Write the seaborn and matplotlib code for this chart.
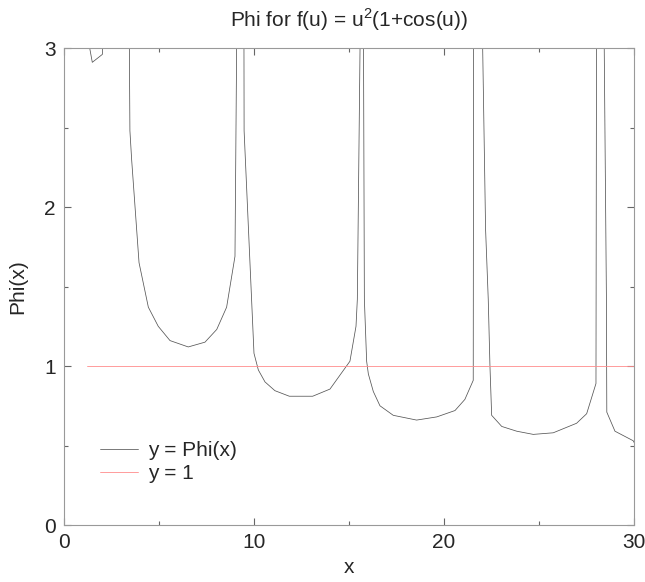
import pandas as pd
import seaborn as sns
import matplotlib.pyplot as plt
from matplotlib.ticker import MultipleLocator

# Phi(x) (values above 3 are off-chart, estimated)
phi_x = [1.2, 1.49, 2.02, 2.05, 3.14, 3.43, 3.47, 3.56, 3.95, 4.44, 4.96, 5.58,
         6.54, 7.42, 8.04, 8.56, 9.0, 9.1, 9.42, 9.47, 9.48, 10.0, 10.23, 10.58,
         11.1, 11.86, 13.09, 14.0, 15.05, 15.37, 15.44, 15.6, 15.71, 15.76, 15.81,
         15.93, 16.02, 16.28, 16.63, 17.33, 18.56, 19.62, 20.58, 21.1, 21.54,
         21.56, 21.99, 22.01, 22.19, 22.33, 22.42, 22.51, 23.04, 23.83, 24.7,
         25.75, 26.98, 27.51, 28.0, 28.03, 28.27, 28.42, 28.55, 28.57, 29.0,
         29.96, 30.0]
phi_y = [3.1, 2.91, 2.96, 3.2, 12.0, 3.2, 2.48, 2.30, 1.65, 1.37, 1.25, 1.16,
         1.12, 1.15, 1.23, 1.37, 1.69, 3.2, 12.0, 3.2, 2.48, 1.08, 0.975, 0.90,
         0.845, 0.81, 0.81, 0.855, 1.03, 1.25, 1.42, 3.2, 12.0, 3.2, 1.42,
         1.03, 0.95, 0.84, 0.75, 0.69, 0.66, 0.68, 0.72, 0.79, 0.91,
         3.2, 12.0, 3.2, 1.86, 1.42, 1.0, 0.69, 0.62, 0.59, 0.57,
         0.58, 0.64, 0.70, 0.89, 3.2, 12.0, 3.2, 1.42, 0.71, 0.59,
         0.53, 0.52]

one_x = [1.2, 30.0]
one_y = [1.0, 1.0]

title = 'Phi for f(u) = u$^2$(1+cos(u))'

sns.set_style('ticks')
plt.rcParams['font.family'] = ['Liberation Sans', 'DejaVu Sans']
plt.rcParams['mathtext.fontset'] = 'custom'
plt.rcParams['mathtext.rm'] = 'Liberation Sans'

fig = plt.figure(figsize=(6.45, 5.82), dpi=100)
ax = fig.add_axes([0.0992, 0.0979, 0.8837, 0.8196])

phi = pd.DataFrame({'x': phi_x, 'y': phi_y})
one = pd.DataFrame({'x': one_x, 'y': one_y})

sns.lineplot(data=phi, x='x', y='y', ax=ax, color='#555555', linewidth=0.55,
             estimator=None, label='y = Phi(x)')
sns.lineplot(data=one, x='x', y='y', ax=ax, color='#ff8c8c', linewidth=0.6,
             estimator=None, label='y = 1')

ax.set_xlim(0, 30)
ax.set_ylim(0, 3)
ax.xaxis.set_major_locator(MultipleLocator(10))
ax.xaxis.set_minor_locator(MultipleLocator(5))
ax.yaxis.set_major_locator(MultipleLocator(1))
ax.yaxis.set_minor_locator(MultipleLocator(0.5))
ax.tick_params(which='both', direction='in', top=True, right=True,
               color='#666666', width=0.8, labelsize=15, pad=6)
ax.tick_params(which='major', length=5)
ax.tick_params(which='minor', length=3)
for sp in ax.spines.values():
    sp.set_color('#999999')
    sp.set_linewidth(0.8)

ax.set_title(title, fontsize=15, pad=15)
ax.set_xlabel('x', fontsize=15, labelpad=4)
ax.set_ylabel('Phi(x)', fontsize=15, labelpad=12)

ax.legend(loc='lower left', bbox_to_anchor=(0.063, 0.088), frameon=False,
          fontsize=15, handlelength=1.85, handletextpad=0.45, labelspacing=0.2,
          borderpad=0, borderaxespad=0)

plt.savefig('out.png', dpi=100)
plt.close()
